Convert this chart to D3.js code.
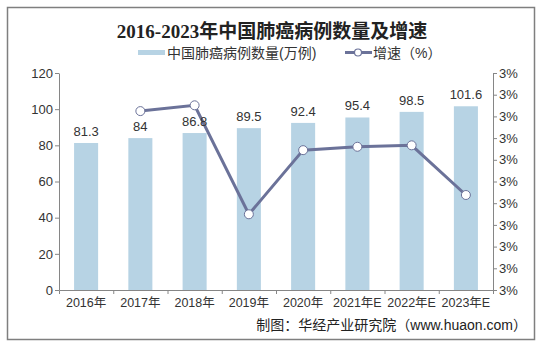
<!DOCTYPE html>
<html><head><meta charset="utf-8">
<script src="https://cdn.jsdelivr.net/npm/d3@7"></script>
<style>
html,body{margin:0;padding:0;background:#fff;}
svg{display:block;font-family:Arial,"Liberation Sans","Noto Sans CJK SC",sans-serif;}
</style></head><body>
<svg id="c" width="544" height="348"></svg>
<script>
const categories = ["2016年","2017年","2018年","2019年","2020年","2021年E","2022年E","2023年E"];
const cases = [81.3, 84, 86.8, 89.5, 92.4, 95.4, 98.5, 101.6];
const growth = [null, 3.321, 3.333, 3.107, 3.240, 3.247, 3.250, 3.147];
const leftTicks = [0, 20, 40, 60, 80, 100, 120];
const rightTickCount = 10;

const svg = d3.select("#c");
svg.append("rect").attr("x",7.5).attr("y",7.5).attr("width",527).attr("height",332)
  .attr("fill","#fff").attr("stroke","#7f7f7f").attr("stroke-width",1.5);

const L=59, R=493, T=73, B=290;
const x = d3.scaleBand().domain(categories).range([L,R]).paddingInner(0.557).paddingOuter(0.278);
const y = d3.scaleLinear().domain([0,120]).range([B,T]);
const y2 = d3.scaleLinear().domain([2.95,3.40]).range([B,T]);

// title
svg.append("text").attr("x",272).attr("y",38).attr("text-anchor","middle")
  .attr("font-family","'Liberation Serif','Noto Sans CJK SC',serif").attr("font-weight","bold")
  .attr("font-size",19).attr("fill","#222").text("2016-2023年中国肺癌病例数量及增速");

// legend
const lg = svg.append("g");
lg.append("rect").attr("x",138).attr("y",50).attr("width",27).attr("height",5).attr("fill","#b7d3e4");
lg.append("text").attr("x",167).attr("y",57.5).attr("font-size",14).attr("fill","#333").text("中国肺癌病例数量(万例)");
lg.append("line").attr("x1",345).attr("x2",372).attr("y1",52.5).attr("y2",52.5).attr("stroke","#6b7299").attr("stroke-width",3);
lg.append("circle").attr("cx",358).attr("cy",52.5).attr("r",3.5).attr("fill","#fff").attr("stroke","#6b7299").attr("stroke-width",1.2);
lg.append("text").attr("x",373).attr("y",57.5).attr("font-size",14).attr("fill","#333").text("增速（%）");

// bars
svg.append("g").selectAll("rect").data(cases).join("rect")
  .attr("x",(d,i)=>x(categories[i])).attr("width",x.bandwidth())
  .attr("y",d=>y(d)).attr("height",d=>B-y(d)).attr("fill","#b7d3e4");

// axes
const axL = svg.append("g").attr("transform",`translate(${L},0)`)
  .call(d3.axisLeft(y).tickValues(leftTicks).tickSize(4).tickSizeOuter(0));
const ticks2 = d3.range(rightTickCount+1).map(i=>2.95+i*0.045);
const axR = svg.append("g").attr("transform",`translate(${R},0)`)
  .call(d3.axisRight(y2).tickValues(ticks2).tickSize(4).tickSizeOuter(0).tickFormat(d=>Math.round(d)+"%"));
const xb = d3.scaleLinear().domain([0,categories.length]).range([L,R]);
const axB = svg.append("g").attr("transform",`translate(0,${B})`)
  .call(d3.axisBottom(xb).tickValues(d3.range(categories.length+1)).tickSize(4).tickFormat(""));
axB.selectAll(".tick").filter(d=>d===0||d===categories.length).remove();
[axL,axR,axB].forEach(a=>{
  a.select(".domain").attr("stroke","#868686");
  a.selectAll(".tick line").attr("stroke","#868686");
  a.selectAll(".tick text").attr("font-size",13).attr("fill","#333").attr("font-family","Arial,'Liberation Sans',sans-serif");
});
axL.selectAll(".tick text").attr("x",-6);
axR.selectAll(".tick text").attr("x",6);

svg.append("g").selectAll("text").data(categories).join("text")
  .attr("x",d=>x(d)+x.bandwidth()/2).attr("y",307).attr("text-anchor","middle")
  .attr("font-size",12.5).attr("fill","#333").text(d=>d);

// line
const pts = growth.map((g,i)=>({g,c:categories[i]})).filter(p=>p.g!==null);
const line = d3.line().x(p=>x(p.c)+x.bandwidth()/2).y(p=>y2(p.g));
svg.append("path").datum(pts).attr("d",line).attr("fill","none").attr("stroke","#6b7299").attr("stroke-width",3);
svg.append("g").selectAll("circle").data(pts).join("circle")
  .attr("cx",p=>x(p.c)+x.bandwidth()/2).attr("cy",p=>y2(p.g)).attr("r",4.5)
  .attr("fill","#fff").attr("stroke","#6b7299").attr("stroke-width",1);

// data labels
svg.append("g").selectAll("text").data(cases).join("text")
  .attr("x",(d,i)=>x(categories[i])+x.bandwidth()/2).attr("y",d=>y(d)-7)
  .attr("text-anchor","middle").attr("font-size",13).attr("fill","#333").text(d=>d);

// source
svg.append("text").attr("x",527).attr("y",330).attr("text-anchor","end").attr("font-size",14)
  .attr("fill","#222").text("制图：华经产业研究院（www.huaon.com）");
</script>
</body></html>
